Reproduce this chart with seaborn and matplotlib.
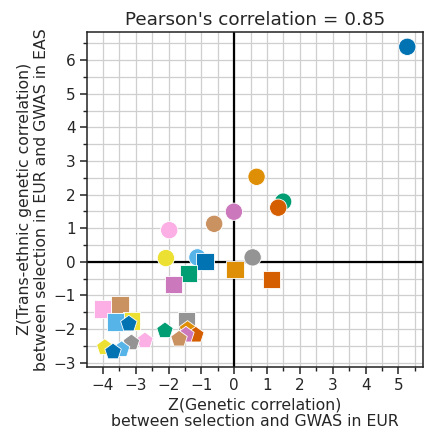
import numpy as np
import pandas as pd
import matplotlib
matplotlib.use("Agg")
import matplotlib.pyplot as plt
import seaborn as sns
from matplotlib.ticker import MultipleLocator

# ---- data ----
groups = ["g1", "g2", "g3", "g4", "g5", "g6", "g7", "g8", "g9", "g10", "g11"]

circle_groups = ["g1", "g2", "g3", "g4", "g5", "g6", "g7", "g8", "g9", "g10"]
circle_x = [5.27, 0.68, 1.49, 1.34, -0.01, -0.61, -1.98, 0.56, -2.08, -1.12]
circle_y = [6.40, 2.53, 1.79, 1.61, 1.49, 1.13, 0.94, 0.13, 0.11, 0.13]

square_groups = ["g1", "g2", "g3", "g4", "g5", "g6", "g7", "g8", "g9", "g10"]
square_x = [-0.89, 0.02, -1.40, 1.14, -1.86, -3.48, -4.02, -1.45, -3.13, -3.62]
square_y = [0.00, -0.22, -0.35, -0.52, -0.67, -1.27, -1.41, -1.76, -1.76, -1.79]

pent_groups = ["g1", "g2", "g3", "g4", "g5", "g6", "g7", "g8", "g9", "g10", "g11"]
pent_x = [-3.21, -1.42, -2.11, -1.17, -1.47, -1.68, -2.72, -3.13, -3.94, -3.43, -3.69]
pent_y = [-1.85, -2.01, -2.05, -2.18, -2.18, -2.30, -2.35, -2.41, -2.55, -2.61, -2.68]

title = "Pearson's correlation = 0.85"
xlabel = "Z(Genetic correlation)\nbetween selection and GWAS in EUR"
ylabel = "Z(Trans-ethnic genetic correlation)\nbetween selection in EUR and GWAS in EAS"

# ---- build table ----
df = pd.concat([
    pd.DataFrame({"x": circle_x, "y": circle_y, "group": circle_groups, "kind": "circle"}),
    pd.DataFrame({"x": square_x, "y": square_y, "group": square_groups, "kind": "square"}),
    pd.DataFrame({"x": pent_x, "y": pent_y, "group": pent_groups, "kind": "pentagon"}),
], ignore_index=True)

cb = sns.color_palette("colorblind", 10)
palette = {g: cb[i % 10] for i, g in enumerate(groups)}
markers = {"circle": "o", "square": "s", "pentagon": "p"}

sns.set_style("ticks")
plt.rcParams["font.family"] = ["DejaVu Sans"]

fig = plt.figure(figsize=(4.27, 4.34), dpi=100)
ax = fig.add_axes([0.204, 0.155, 0.786, 0.772])

ax.xaxis.set_major_locator(MultipleLocator(1))
ax.xaxis.set_minor_locator(MultipleLocator(0.5))
ax.yaxis.set_major_locator(MultipleLocator(1))
ax.yaxis.set_minor_locator(MultipleLocator(0.5))
ax.grid(which="both", color="#cfcfcf", linewidth=0.9, zorder=0)
ax.set_axisbelow(True)
ax.axhline(0, color="black", linewidth=1.6, zorder=1)
ax.axvline(0, color="black", linewidth=1.6, zorder=1)

sns.scatterplot(data=df, x="x", y="y", hue="group", style="kind",
                palette=palette, markers=markers, s=155,
                edgecolor="white", linewidth=0.6, legend=False, ax=ax, zorder=3)

ax.set_xlim(-4.48, 5.74)
ax.set_ylim(-3.125, 6.85)
ax.set_xticks(range(-4, 6))
ax.set_yticks(range(-3, 7))
ax.tick_params(which="major", length=5, width=1.1, labelsize=11, color="#222222", pad=3)
ax.tick_params(which="minor", length=3, width=1.0, color="#222222")
for s in ax.spines.values():
    s.set_color("#222222")
    s.set_linewidth(1.1)

ax.set_title(title, fontsize=13.2, pad=5)
ax.set_xlabel(xlabel, fontsize=11.3, labelpad=3)
ax.set_ylabel(ylabel, fontsize=11.3, labelpad=3)

fig.savefig("out.png", dpi=100)
